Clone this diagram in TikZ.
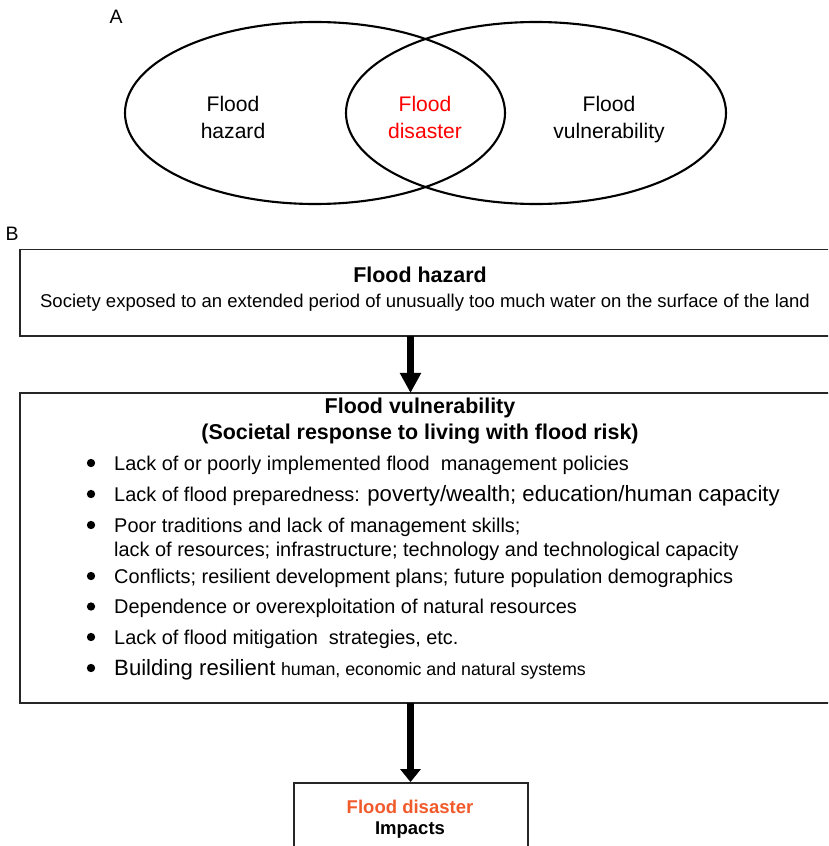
\documentclass[tikz,border=0pt]{standalone}
\usepackage{fontspec}
\setmainfont{Liberation Sans}
\usetikzlibrary{shapes.geometric,positioning,arrows.meta}
\definecolor{disred}{RGB}{255,0,0}
\definecolor{disorange}{RGB}{241,90,43}
\newcommand\bigtxt[1]{{\fontsize{18.9}{22}\selectfont #1}}
\newcommand\smalltxt[1]{{\fontsize{15.2}{18}\selectfont #1}}
\tikzset{%
	venn/.style     = {draw, ellipse, line width=1.8pt, minimum width=11.4cm, minimum height=5.46cm}, % Venn set
	vlabel/.style   = {font=\fontsize{18}{22.3}\selectfont, align=center, inner sep=0pt, anchor=base},
	panel/.style    = {font=\fontsize{16.6}{20}\selectfont, inner sep=0pt, anchor=base},
	box/.style      = {rectangle, outer sep=0pt}, % Frame, cut off on the right
	boxline/.style  = {draw=black!85, line width=1.6pt},
	closedbox/.style= {draw=black!85, rectangle, line width=1.6pt},
	title/.style    = {font=\bfseries\fontsize{18.3}{22}\selectfont, inner sep=0pt, anchor=base},
	subtitle/.style = {font=\fontsize{15.8}{19}\selectfont, inner sep=0pt, anchor=base},
	item/.style     = {font=\fontsize{17}{20}\selectfont, inner sep=0pt, anchor=base west},
	dot/.style      = {fill, circle, inner sep=0pt, minimum size=0.25cm},
	bigarrow/.style = {line width=0.2cm, -{Triangle[width=0.6cm,length=0.6cm]}},
	midarrow/.style = {line width=0.2cm, -{Triangle[width=0.6cm,length=0.39cm]}},
}
\begin{document}
\begin{tikzpicture}[x=0.03cm,y=-0.03cm]
	\useasboundingbox (0,0) rectangle (828,846);
	\clip (0,0) rectangle (828,846);
	% panel A
	\node [panel] (labA) at (116,24) {A};
	\node [venn] (hazset) at (315,113) {};
	\node [venn] (vulset) at (536,113) {};
	\node [vlabel] (vhaz) at (233,138) {Flood\\hazard};
	\node [vlabel,text=disred] (vdis) at (425,138) {Flood\\disaster};
	\node [vlabel] (vvul) at (609,138) {Flood\\vulnerability};
	
	% panel B
	\node [panel] (labB) at (12,240) {B};
	\node [box,minimum width=26.4cm,minimum height=2.595cm] (hazbox) at (460,292.75) {};
	\draw [boxline] (hazbox.north east) -- (hazbox.north west) -- (hazbox.south west) -- (hazbox.south east);
	\node [title] (haztitle) at (420,282) {Flood hazard};
	\node [subtitle] (hazsub) at (425,307) {Society exposed to an extended period of unusually too much water on the surface of the land};
	
	\node [box,minimum width=26.4cm,minimum height=9.3cm] (vulbox) at (460,548) {};
	\draw [boxline] (vulbox.north east) -- (vulbox.north west) -- (vulbox.south west) -- (vulbox.south east);
	\node [title] (vultitle) at (420,413) {Flood vulnerability};
	\node [title] (vulsub) at (420,439) {(Societal response to living with flood risk)};
	\foreach \yy/\txt [count=\i] in {%
		470/{Lack of or poorly implemented flood \ management policies},
		501/{Lack of flood preparedness: \bigtxt{poverty/wealth; education/human capacity}},
		532/{Poor traditions and lack of management skills;},
		583/{Conflicts; resilient development plans; future population demographics},
		613.5/{Dependence or overexploitation of natural resources},
		644/{Lack of flood mitigation \ strategies, etc.},
		675/{\bigtxt{Building resilient} \smalltxt{human, economic and natural systems}}}{
		\node [dot] (dot\i) at (91,\yy-7) {};
		\node [item] (item\i) at (114,\yy) {\txt};
	}
	\node [item] (item3b) at (114,556) {lack of resources; infrastructure; technology and technological capacity};
	
	\node [closedbox,minimum width=7.02cm,minimum height=2.4cm] (disbox) at (411,823) {};
	\node [title,font=\bfseries\fontsize{15.8}{19}\selectfont,text=disorange] (distitle) at (410,813) {Flood disaster};
	\node [title,font=\bfseries\fontsize{15.8}{19}\selectfont] (disimp) at (410,834) {Impacts};
	
	\coordinate (axis) at (410.5,0);
	\draw [bigarrow] (hazbox.south -| axis) -- (vulbox.north -| axis);
	\draw [midarrow] (vulbox.south -| axis) -- (disbox.north -| axis);
\end{tikzpicture}
\end{document}
